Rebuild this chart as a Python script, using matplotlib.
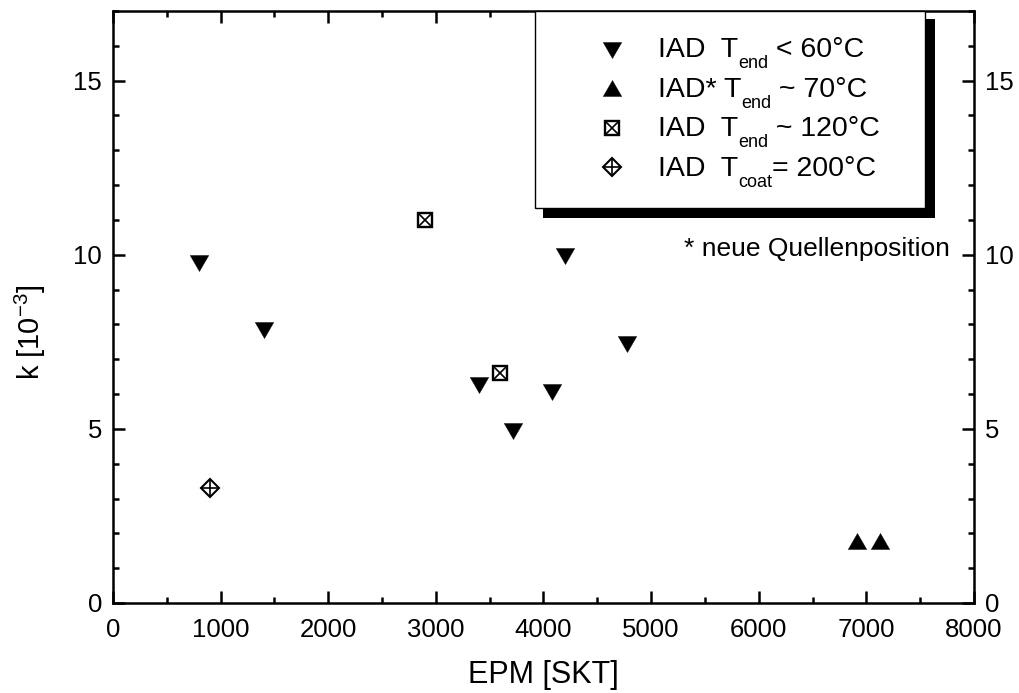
import matplotlib
matplotlib.use("Agg")
import matplotlib.pyplot as plt
from matplotlib.path import Path
from matplotlib.patches import Rectangle
from matplotlib.ticker import MultipleLocator

plt.rcParams['font.family'] = ['Liberation Sans', 'DejaVu Sans']
plt.rcParams['mathtext.fontset'] = 'custom'
plt.rcParams['mathtext.rm'] = 'Liberation Sans'
plt.rcParams['mathtext.it'] = 'Liberation Sans:italic'
plt.rcParams['mathtext.bf'] = 'Liberation Sans:bold'

# ---- data ----
down_x = [800, 1400, 3400, 3720, 4080, 4200, 4780]
down_y = [9.75, 7.85, 6.25, 4.95, 6.05, 9.95, 7.45]
up_x = [6910, 7130]
up_y = [1.78, 1.78]
sq_x = [2900, 3600]
sq_y = [11.0, 6.6]
dia_x = [900]
dia_y = [3.3]

x_ticks = [0, 1000, 2000, 3000, 4000, 5000, 6000, 7000, 8000]
y_ticks = [0, 5, 10, 15]

TRI_DOWN = Path([(-1, 0.866), (1, 0.866), (0, -0.866), (0, 0)],
                [Path.MOVETO, Path.LINETO, Path.LINETO, Path.CLOSEPOLY])
TRI_UP = Path([(-1, -0.866), (1, -0.866), (0, 0.866), (0, 0)],
              [Path.MOVETO, Path.LINETO, Path.LINETO, Path.CLOSEPOLY])

fig = plt.figure(figsize=(10.19, 6.93), dpi=100)
ax = fig.add_axes([0.1109, 0.1299, 0.8449, 0.8543])


def draw_down(a, x, y, **kw):
    a.plot(x, y, linestyle='none', marker=TRI_DOWN, ms=13.3, mfc='black', mec='black', mew=0.3, **kw)


def draw_up(a, x, y, **kw):
    a.plot(x, y, linestyle='none', marker=TRI_UP, ms=13.3, mfc='black', mec='black', mew=0.3, **kw)


def draw_sq(a, x, y, **kw):
    a.plot(x, y, linestyle='none', marker='s', ms=10.2, mfc='white', mec='black', mew=1.7, **kw)
    a.plot(x, y, linestyle='none', marker='x', ms=10.2, mec='black', mew=1.2, **kw)


def draw_dia(a, x, y, **kw):
    a.plot(x, y, linestyle='none', marker='D', ms=9.6, mfc='white', mec='black', mew=1.5, **kw)
    a.plot(x, y, linestyle='none', marker='+', ms=13.6, mec='black', mew=1.2, **kw)


draw_down(ax, down_x, down_y, zorder=4)
draw_up(ax, up_x, up_y, zorder=4)
draw_sq(ax, sq_x, sq_y, zorder=4)
draw_dia(ax, dia_x, dia_y, zorder=4)

ax.set_xlim(0, 8000)
ax.set_ylim(0, 17)
ax.set_xticks(x_ticks)
ax.set_yticks(y_ticks)
ax.xaxis.set_minor_locator(MultipleLocator(500))
ax.yaxis.set_minor_locator(MultipleLocator(1))
ax.tick_params(which='both', direction='in', top=True, right=True,
               labelright=True, width=1.8, labelsize=18.5)
ax.tick_params(which='major', length=8.5)
ax.tick_params(which='minor', length=4.3)
ax.tick_params(axis='x', pad=10.5)
ax.tick_params(axis='y', pad=8)
for s in ax.spines.values():
    s.set_linewidth(1.8)

ax.set_xlabel('EPM [SKT]', fontsize=22)
ax.set_ylabel(r'k [10$^{\mathregular{-3}}$]', fontsize=21)
ax.xaxis.set_label_coords(0.5, -0.097)
ax.yaxis.set_label_coords(-0.0755, 0.457)

# ---- legend box with shadow ----
shadow = Rectangle((0.4994, 0.6503), 0.9547 - 0.4994, 0.9865 - 0.6503,
                   transform=ax.transAxes, facecolor='black', edgecolor='none',
                   zorder=5, clip_on=False)
box = Rectangle((0.4901, 0.6672), 0.9431 - 0.4901, 1.0 - 0.6672,
                transform=ax.transAxes, facecolor='white', edgecolor='black',
                linewidth=1.0, zorder=6, clip_on=False)
ax.add_patch(shadow)
ax.add_patch(box)

mk_x = 0.5796
rows_marker_y = [0.9341, 0.8699, 0.8024, 0.7365]
rows_base_y = [0.9223, 0.8547, 0.7889, 0.7213]
labels = [('IAD  T', 'end', ' < 60°C'),
          ('IAD* T', 'end', ' ~ 70°C'),
          ('IAD  T', 'end', ' ~ 120°C'),
          ('IAD  T', 'coat', '= 200°C')]
drawers = [draw_down, draw_up, draw_sq, draw_dia]

for fn, my in zip(drawers, rows_marker_y):
    fn(ax, [mk_x], [my], transform=ax.transAxes, clip_on=False, zorder=7)

FS = 20.5
for (a, sub, b), by in zip(labels, rows_base_y):
    t1 = ax.text(0.633, by, a, transform=ax.transAxes, fontsize=FS,
                 va='baseline', ha='left', zorder=7)
    t2 = ax.annotate(sub, xy=(1, 0), xycoords=t1, xytext=(0, -6.5),
                     textcoords='offset points', fontsize=13,
                     va='bottom', ha='left', zorder=7)
    ax.annotate(b, xy=(1, 0), xycoords=(t2, t1), xytext=(0, 0),
                textcoords='offset points', fontsize=FS,
                va='bottom', ha='left', zorder=7)

ax.text(0.972, (603 - 256) / 592, '* neue Quellenposition', transform=ax.transAxes,
        fontsize=19, ha='right', va='baseline', zorder=7)

fig.savefig('out.png', dpi=100)
